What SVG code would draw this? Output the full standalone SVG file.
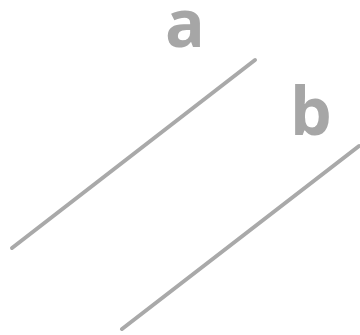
<svg xmlns="http://www.w3.org/2000/svg" width="360" height="335" viewBox="0 0 360 335">
<style>
.ln{stroke:#a9a9a9;stroke-width:4;stroke-linecap:round;fill:none}
.lb{font-family:"Open Sans","Liberation Sans",sans-serif;font-weight:bold;font-size:66px;fill:#a6a6a6}
</style>
<rect width="360" height="335" fill="#ffffff"/>
<g id="connectors">
<line class="ln" x1="12" y1="248" x2="255" y2="60"/>
<line class="ln" x1="122" y1="329" x2="359" y2="146"/>
</g>
<g id="label-a"><text class="lb" x="165" y="47">a</text></g>
<g id="label-b"><text class="lb" x="290" y="135">b</text></g>
</svg>
